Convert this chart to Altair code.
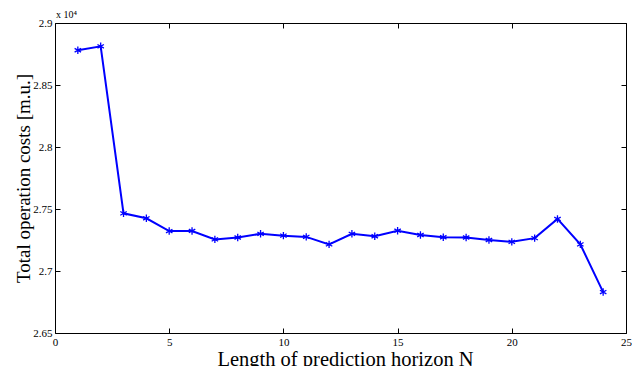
import altair as alt
import pandas as pd

horizon = list(range(1, 25))
costs = [28780, 28812, 27465, 27425, 27322, 27323, 27255, 27270, 27300, 27285,
         27275, 27215, 27300, 27280, 27325, 27290, 27272, 27270, 27250, 27235,
         27265, 27420, 27215, 26830]

x_ticks = [0, 5, 10, 15, 20, 25]
y_ticks = [26500, 27000, 27500, 28000, 28500, 29000]
exponent_label = "x 10⁴"

df = pd.DataFrame({"N": horizon, "cost": costs})

FONT = "Liberation Serif"
ASTERISK = "M0,-1L0,1M-0.87,-0.5L0.87,0.5M-0.87,0.5L0.87,-0.5"

xscale = alt.Scale(domain=[0, 25], nice=False, zero=False)
yscale = alt.Scale(domain=[26500, 29000], nice=False, zero=False)

common_axis = dict(grid=False, domain=False, offset=-5, tickSize=5, tickColor="black",
                   tickWidth=1, labelFont=FONT, labelFontSize=11, labelColor="black",
                   labelPadding=3)
tick_only = {k: v for k, v in common_axis.items() if not k.startswith("label")}

line = alt.Chart(df).mark_line(color="#0000ff", strokeWidth=2).encode(
    x=alt.X("N:Q", scale=xscale,
            axis=alt.Axis(orient="bottom", values=x_ticks, title="Length of prediction horizon N",
                          titleFont=FONT, titleFontSize=20.5, titleFontWeight="normal",
                          titleColor="black", titleBaseline="alphabetic", titleY=37, titleX=290,
                          labelFlush=False, **common_axis)),
    y=alt.Y("cost:Q", scale=yscale,
            axis=alt.Axis(orient="left", values=y_ticks, title="Total operation costs [m.u.]",
                          labelExpr="format(datum.value/10000, '.3~f')",
                          titleFont=FONT, titleFontSize=19, titleFontWeight="normal",
                          titleColor="black", titleBaseline="alphabetic", titleX=-31, titleY=155,
                          titleAngle=-90, **common_axis)),
)

points = alt.Chart(df).mark_point(shape=ASTERISK, color="#0000ff", size=55,
                                  strokeWidth=1.3, filled=False, opacity=1).encode(
    x=alt.X("N:Q", scale=xscale,
            axis=alt.Axis(orient="top", values=x_ticks, title=None, labels=False, **tick_only)),
    y=alt.Y("cost:Q", scale=yscale,
            axis=alt.Axis(orient="right", values=y_ticks, title=None, labels=False, **tick_only)),
)

exponent = alt.Chart(pd.DataFrame({"t": [exponent_label]})).mark_text(
    font=FONT, fontSize=10, color="black", align="left", baseline="alphabetic"
).encode(x=alt.value(1), y=alt.value(-5), text="t:N")

chart = alt.layer(line, points, exponent).resolve_axis(x="independent", y="independent").properties(
    width=571, height=310,
    autosize=alt.AutoSizeParams(type="none"),
    padding={"left": 55, "top": 23, "right": 6, "bottom": 33},
    background="white",
).configure_view(stroke="black", strokeWidth=1)

chart.save("out.html", embed_options={"renderer": "svg", "actions": False})
